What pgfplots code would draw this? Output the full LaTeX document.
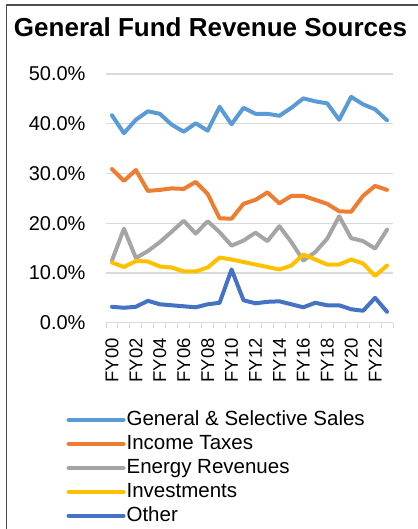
\documentclass[border=0pt]{standalone}
\usepackage{pgfplots}
\pgfplotsset{compat=1.18}
\usepackage{fontspec}
\setmainfont{Liberation Sans}
\definecolor{cA}{HTML}{5B9BD5}
\definecolor{cB}{HTML}{ED7D31}
\definecolor{cC}{HTML}{A5A5A5}
\definecolor{cD}{HTML}{FFC000}
\definecolor{cE}{HTML}{4472C4}
\definecolor{gridc}{HTML}{D9D9D9}
\begin{document}
\begin{tikzpicture}
\path[use as bounding box] (0,0) rectangle (418bp,529bp);
\draw[color=black!70, line width=1.5bp] (6.5bp,0) -- (6.5bp,524bp) -- (418bp,524bp);
\node[font=\bfseries\fontsize{26bp}{30bp}\selectfont, anchor=base] at (210.5bp,492bp) {General Fund Revenue Sources};
\begin{axis}[at={(106bp,206.3bp)}, anchor=south west, scale only axis,
  width=287bp, height=248.7bp,
  xmin=-0.5, xmax=23.5, ymin=0, ymax=50,
  axis x line*=bottom, axis y line*=left,
  x axis line style={draw=gridc, line width=1.2bp, -},
  y axis line style={draw=none},
  ytick={0,10,...,50}, yticklabels={0.0\%,10.0\%,20.0\%,30.0\%,40.0\%,50.0\%},
  xtick={0,2,...,22}, xticklabels={FY00,FY02,FY04,FY06,FY08,FY10,FY12,FY14,FY16,FY18,FY20,FY22},
  minor xtick={-0.5,0.5,...,23.5},
  major tick length=0pt, minor tick length=5bp, tick align=outside,
  minor x tick style={draw=gridc, line width=1bp},
  ymajorgrids, major grid style={draw=gridc, line width=1.2bp},
  yticklabel style={font=\fontsize{20bp}{24bp}\selectfont, xshift=-17bp},
  xticklabel style={font=\fontsize{18.5bp}{22bp}\selectfont, rotate=90, anchor=east},
  xticklabel shift=12bp,
  clip=false,
  legend style={at={(axis description cs:-0.138,-0.343)}, anchor=north west, draw=none, fill=none,
    font=\fontsize{20.5bp}{24bp}\selectfont, inner sep=0pt, row sep=1bp, column sep=0pt,
    nodes={text height=15bp, text depth=4bp, inner ysep=2bp, inner xsep=1bp}},
  legend image code/.code={\draw[#1] (0bp,0bp) -- (55bp,0bp);},
  legend cell align=left,
  every axis plot/.append style={line width=4bp, line join=round, line cap=round, mark=none},
]
\addplot[cA] coordinates {(0,41.7)(1,38.1)(2,40.8)(3,42.5)(4,42.0)(5,39.8)(6,38.4)(7,40.1)(8,38.6)(9,43.4)(10,39.9)(11,43.2)(12,42.0)(13,42.0)(14,41.6)(15,43.2)(16,45.1)(17,44.5)(18,44.1)(19,40.8)(20,45.4)(21,43.9)(22,42.9)(23,40.7)};
\addlegendentry{General \& Selective Sales}
\addplot[cB] coordinates {(0,30.9)(1,28.5)(2,30.7)(3,26.5)(4,26.7)(5,27.0)(6,26.9)(7,28.3)(8,25.9)(9,21.0)(10,20.9)(11,23.9)(12,24.7)(13,26.2)(14,24.0)(15,25.5)(16,25.5)(17,24.7)(18,23.9)(19,22.4)(20,22.3)(21,25.5)(22,27.5)(23,26.7)};
\addlegendentry{Income Taxes}
\addplot[cC] coordinates {(0,12.5)(1,18.9)(2,13.0)(3,14.4)(4,16.2)(5,18.3)(6,20.5)(7,17.9)(8,20.4)(9,18.2)(10,15.5)(11,16.5)(12,18.1)(13,16.4)(14,19.4)(15,16.2)(16,12.5)(17,14.2)(18,16.9)(19,21.4)(20,17.0)(21,16.4)(22,14.9)(23,18.7)};
\addlegendentry{Energy Revenues}
\addplot[cD] coordinates {(0,12.1)(1,11.2)(2,12.4)(3,12.3)(4,11.3)(5,11.1)(6,10.3)(7,10.3)(8,11.1)(9,13.1)(10,12.7)(11,12.2)(12,11.7)(13,11.2)(14,10.7)(15,11.5)(16,13.7)(17,12.7)(18,11.7)(19,11.7)(20,12.7)(21,11.9)(22,9.4)(23,11.5)};
\addlegendentry{Investments}
\addplot[cE] coordinates {(0,3.2)(1,3.0)(2,3.2)(3,4.4)(4,3.7)(5,3.5)(6,3.3)(7,3.1)(8,3.7)(9,4.0)(10,10.7)(11,4.5)(12,3.9)(13,4.2)(14,4.3)(15,3.7)(16,3.1)(17,4.0)(18,3.5)(19,3.5)(20,2.7)(21,2.4)(22,5.0)(23,2.2)};
\addlegendentry{Other}
\end{axis}
\end{tikzpicture}
\end{document}
